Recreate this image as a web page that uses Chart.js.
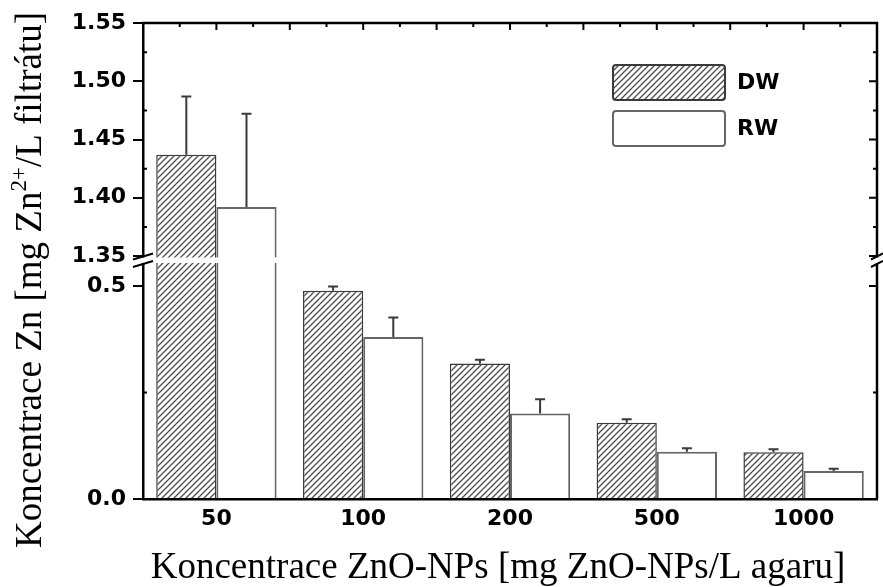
<!DOCTYPE html>
<html>
<head>
<meta charset="utf-8">
<script src="https://cdn.jsdelivr.net/npm/chart.js@4.4.1/dist/chart.umd.min.js"></script>
<style>
  html, body { margin: 0; padding: 0; background: #fff; }
  #wrap { width: 883px; height: 587px; position: relative; }
</style>
</head>
<body>
<div id="wrap"><canvas id="c"></canvas></div>
<script>
// ---- data ----
const categories = ['50', '100', '200', '500', '1000'];
const seriesNames = ['DW', 'RW'];
const dwValues = [1.437, 0.489, 0.318, 0.179, 0.110];
const dwErrors = [0.050, 0.010, 0.009, 0.008, 0.007];
const rwValues = [1.392, 0.380, 0.201, 0.111, 0.066];
const rwErrors = [0.080, 0.046, 0.033, 0.008, 0.005];
const yMajorTicks = [0, 0.5, 1.35, 1.40, 1.45, 1.50, 1.55];
const yTickLabels = ['0.0', '0.5', '1.35', '1.40', '1.45', '1.50', '1.55'];
const yMinorTicks = [0.25, 1.375, 1.425, 1.475, 1.525];
const xTitle = 'Koncentrace ZnO-NPs [mg ZnO-NPs/L agaru]';
const yTitleParts = ['Koncentrace Zn [mg Zn', '2+', '/L filtrátu]'];

// ---- broken value axis: lower segment and upper segment with a gap between ----
const axisBreak = { lowMax: 0.554, lowTo: 0.4958, highMin: 1.35, highFrom: 0.5105, max: 1.55 };

function toFraction(v) {
  const b = axisBreak;
  if (v <= b.lowMax) return v / b.lowMax * b.lowTo;
  if (v >= b.highMin) return b.highFrom + (v - b.highMin) / (b.max - b.highMin) * (1 - b.highFrom);
  return b.lowTo + (v - b.lowMax) / (b.highMin - b.lowMax) * (b.highFrom - b.lowTo);
}
function fromFraction(f) {
  const b = axisBreak;
  if (f <= b.lowTo) return f / b.lowTo * b.lowMax;
  if (f >= b.highFrom) return b.highMin + (f - b.highFrom) / (1 - b.highFrom) * (b.max - b.highMin);
  return b.lowMax + (f - b.lowTo) / (b.highFrom - b.lowTo) * (b.highMin - b.lowMax);
}

class BrokenLinearScale extends Chart.LinearScale {
  buildTicks() {
    const ticks = yMajorTicks.map(v => ({ value: v, minor: false }))
      .concat(yMinorTicks.map(v => ({ value: v, minor: true })));
    return ticks.sort((a, b) => a.value - b.value);
  }
  getPixelForValue(value) {
    return this.getPixelForDecimal(toFraction(value));
  }
  getValueForPixel(pixel) {
    return fromFraction(this.getDecimalForPixel(pixel));
  }
}
BrokenLinearScale.id = 'brokenLinear';
BrokenLinearScale.defaults = Chart.LinearScale.defaults;
Chart.register(BrokenLinearScale);

// ---- hatch fill ----
const canvas = document.getElementById('c');
const mainCtx = canvas.getContext('2d');
function makeHatch() {
  const s = 6;
  const c = document.createElement('canvas');
  c.width = s; c.height = s;
  const g = c.getContext('2d');
  g.fillStyle = '#ffffff';
  g.fillRect(0, 0, s, s);
  g.strokeStyle = '#4d4d4d';
  g.lineWidth = 1.3;
  g.beginPath();
  g.moveTo(0, s); g.lineTo(s, 0);
  g.moveTo(-s / 2, s / 2); g.lineTo(s / 2, -s / 2);
  g.moveTo(s / 2, s * 1.5); g.lineTo(s * 1.5, s / 2);
  g.stroke();
  return mainCtx.createPattern(c, 'repeat');
}
const hatch = makeHatch();

const AXIS_W = 2.5;

// ---- decorations: error bars, axis break, frame ticks, legend, titles ----
const decor = {
  id: 'decor',
  afterDatasetsDraw(chart) {
    const ctx = chart.ctx;
    const area = chart.chartArea;
    const y = chart.scales.y;
    const x = chart.scales.x;

    // white band through the axis break
    const gTop = y.getPixelForValue(axisBreak.highMin) + 1.5;
    const gBot = y.getPixelForValue(axisBreak.lowMax);
    ctx.save();
    ctx.fillStyle = '#ffffff';
    ctx.fillRect(area.left - 3, gTop, area.right - area.left + 6, gBot - gTop);

    // error bars (upper half only)
    const errs = [dwErrors, rwErrors];
    chart.data.datasets.forEach((ds, di) => {
      const meta = chart.getDatasetMeta(di);
      meta.data.forEach((bar, i) => {
        const top = y.getPixelForValue(ds.data[i] + errs[di][i]);
        ctx.strokeStyle = '#3a3a3a';
        ctx.lineWidth = 2;
        ctx.beginPath();
        ctx.moveTo(bar.x, bar.y);
        ctx.lineTo(bar.x, top);
        ctx.moveTo(bar.x - 5, top);
        ctx.lineTo(bar.x + 5, top);
        ctx.stroke();
      });
    });

    // frame: top and right axis lines
    ctx.strokeStyle = '#000';
    ctx.lineWidth = AXIS_W;
    ctx.beginPath();
    ctx.moveTo(area.left - 1, area.top);
    ctx.lineTo(area.right, area.top);
    ctx.lineTo(area.right, gTop);
    ctx.moveTo(area.right, gBot);
    ctx.lineTo(area.right, area.bottom);
    ctx.stroke();

    // top axis ticks (inward)
    ctx.lineWidth = 2;
    ctx.beginPath();
    for (let i = 0; i < categories.length; i++) {
      [-0.5, 0].forEach(d => {
        const px = x.getPixelForValue(i + d);
        if (px > area.left + 2) { ctx.moveTo(px, area.top); ctx.lineTo(px, area.top + 7); }
      });
      [-0.25, 0.25].forEach(d => {
        const px = x.getPixelForValue(i + d);
        ctx.moveTo(px, area.top); ctx.lineTo(px, area.top + 4);
      });
    }
    // right axis ticks (inward) and left minor ticks
    yMajorTicks.forEach(v => {
      const py = y.getPixelForValue(v);
      if (py > area.top + 2 && py < area.bottom - 2) {
        ctx.moveTo(area.right, py); ctx.lineTo(area.right - 8, py);
      }
    });
    yMinorTicks.forEach(v => {
      const py = y.getPixelForValue(v);
      ctx.moveTo(area.right, py); ctx.lineTo(area.right - 4, py);
      ctx.moveTo(area.left, py); ctx.lineTo(area.left + 4, py);
    });
    ctx.stroke();

    // break marks on both vertical axes
    ctx.lineWidth = 2;
    ctx.beginPath();
    [[area.left, 10], [area.right, 6]].forEach(([ax, half]) => {
      [gTop - 1, gBot + 1].forEach(py => {
        ctx.moveTo(ax - half, py + 3);
        ctx.lineTo(ax + half, py - 3);
      });
    });
    ctx.stroke();
    ctx.restore();
  },
  afterDraw(chart) {
    const ctx = chart.ctx;
    const area = chart.chartArea;
    ctx.save();

    // legend
    const bw = 112, bh = 35;
    const bx = area.right - 264;
    const tops = [area.top + 42, area.top + 88];
    chart.data.datasets.forEach((ds, i) => {
      const by = tops[i];
      ctx.beginPath();
      if (ctx.roundRect) ctx.roundRect(bx, by, bw, bh, 3); else ctx.rect(bx, by, bw, bh);
      ctx.fillStyle = ds.backgroundColor;
      ctx.fill();
      ctx.strokeStyle = ds.borderColor;
      ctx.lineWidth = 2;
      ctx.stroke();
      ctx.fillStyle = '#000';
      ctx.font = 'bold 22px "DejaVu Sans"';
      ctx.textAlign = 'left';
      ctx.textBaseline = 'middle';
      ctx.fillText(ds.label, bx + bw + 12, by + bh / 2 + 1);
    });

    // x axis title
    ctx.fillStyle = '#000';
    ctx.font = '37px "Liberation Serif"';
    ctx.textAlign = 'center';
    ctx.textBaseline = 'alphabetic';
    ctx.fillText(xTitle, 498, 578);

    // y axis title with superscript charge
    const mainFont = '37px "Liberation Serif"';
    const supFont = '23px "Liberation Serif"';
    ctx.translate(29, 280);
    ctx.rotate(-Math.PI / 2);
    ctx.textAlign = 'left';
    ctx.font = mainFont;
    const w1 = ctx.measureText(yTitleParts[0]).width;
    const w3 = ctx.measureText(yTitleParts[2]).width;
    ctx.font = supFont;
    const w2 = ctx.measureText(yTitleParts[1]).width;
    let tx = -(w1 + w2 + w3) / 2;
    ctx.font = mainFont;
    ctx.fillText(yTitleParts[0], tx, 12);
    tx += w1;
    ctx.font = supFont;
    ctx.fillText(yTitleParts[1], tx, -3);
    tx += w2;
    ctx.font = mainFont;
    ctx.fillText(yTitleParts[2], tx, 12);
    ctx.restore();
  }
};

new Chart(canvas, {
  type: 'bar',
  data: {
    labels: categories,
    datasets: [
      { label: seriesNames[0], data: dwValues, backgroundColor: hatch, borderColor: '#3a3a3a', borderWidth: 1.5 },
      { label: seriesNames[1], data: rwValues, backgroundColor: '#ffffff', borderColor: '#666666', borderWidth: 2 }
    ]
  },
  options: {
    responsive: true,
    maintainAspectRatio: false,
    animation: false,
    events: [],
    layout: { padding: { top: 23, right: 6, left: 0, bottom: 0 } },
    datasets: { bar: { categoryPercentage: 0.82, barPercentage: 1.0 } },
    plugins: { legend: { display: false }, tooltip: { enabled: false } },
    scales: {
      x: {
        type: 'category',
        offset: true,
        grid: { display: false, drawTicks: false },
        border: { color: '#000', width: AXIS_W },
        ticks: { padding: 7, color: '#000', font: { family: 'DejaVu Sans', weight: 'bold', size: 22 } },
        afterFit: s => { s.height = 88; }
      },
      y: {
        type: 'brokenLinear',
        min: 0,
        max: 1.55,
        border: { color: '#000', width: AXIS_W },
        grid: {
          drawOnChartArea: false,
          tickLength: 10,
          lineWidth: 2,
          color: c => (c.tick && c.tick.minor) ? 'rgba(0,0,0,0)' : '#000'
        },
        ticks: {
          autoSkip: false,
          padding: 7,
          color: '#000',
          font: { family: 'DejaVu Sans', weight: 'bold', size: 22 },
          callback: v => {
            const i = yMajorTicks.indexOf(v);
            return i >= 0 ? yTickLabels[i] : '';
          }
        },
        afterFit: s => { s.width = 143; }
      }
    }
  },
  plugins: [decor]
});
</script>
</body>
</html>
